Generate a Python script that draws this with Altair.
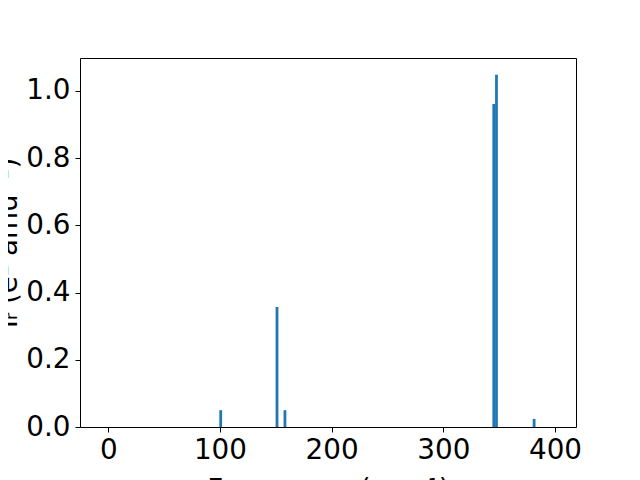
import altair as alt
import pandas as pd

freq = [100.7, 151.1, 158.2, 345.2, 347.6, 381.3]
intensity = [0.05, 0.357, 0.05, 0.961, 1.048, 0.024]
x_ticks = [0, 100, 200, 300, 400]
y_ticks = [0.0, 0.2, 0.4, 0.6, 0.8, 1.0]

df = pd.DataFrame({"freq": freq, "inten": intensity})

FONT = "DejaVu Sans"
FS = 27.8
XDOM = [-25.3, 418.8]
YDOM = [0, 1.098]

bars = (
    alt.Chart(df)
    .transform_calculate(x0="datum.freq - 1.25", x1="datum.freq + 1.25")
    .mark_rect(color="#1f77b4")
    .encode(
        x=alt.X(
            "x0:Q",
            scale=alt.Scale(domain=XDOM, nice=False, zero=False),
            axis=alt.Axis(
                values=x_ticks,
                format="d",
                grid=False,
                title="Frequency (cm⁻¹)",
                titleFont=FONT,
                titleFontSize=FS,
                titleFontWeight="normal",
                titleColor="black",
                titleBaseline="alphabetic",
                titleY=71,
                labelFont=FONT,
                labelFontSize=FS,
                labelColor="black",
                labelPadding=4,
                tickSize=5,
                tickColor="black",
                tickWidth=1,
                domainColor="black",
                domainWidth=1,
                labelFlush=False,
            ),
        ),
        x2="x1:Q",
        y=alt.Y(
            "inten:Q",
            scale=alt.Scale(domain=YDOM, nice=False),
            axis=alt.Axis(
                values=y_ticks,
                format=".1f",
                grid=False,
                title="Iᵣ (e² amu⁻¹)",
                titleFont=FONT,
                titleFontSize=FS,
                titleFontWeight="normal",
                titleColor="black",
                titleAngle=270,
                titleBaseline="alphabetic",
                titleX=-64,
                labelFont=FONT,
                labelFontSize=FS,
                labelColor="black",
                labelPadding=5,
                tickSize=5,
                tickColor="black",
                tickWidth=1,
                domainColor="black",
                domainWidth=1,
                labelFlush=False,
            ),
        ),
        y2=alt.datum(0),
    )
)

frame = (
    alt.Chart(df)
    .mark_point(opacity=0)
    .encode(
        x=alt.X(
            "freq:Q",
            scale=alt.Scale(domain=XDOM, nice=False, zero=False),
            axis=alt.Axis(orient="top", labels=False, ticks=False, title=None,
                          grid=False, domainColor="black", domainWidth=1),
        ),
        y=alt.Y(
            "inten:Q",
            scale=alt.Scale(domain=YDOM, nice=False),
            axis=alt.Axis(orient="right", labels=False, ticks=False, title=None,
                          grid=False, domainColor="black", domainWidth=1),
        ),
    )
)

chart = (
    alt.layer(bars, frame)
    .resolve_axis(x="independent", y="independent")
    .properties(
        width=496,
        height=369,
        autosize=alt.AutoSizeParams(type="none"),
        padding={"left": 72, "top": 50, "right": 56, "bottom": 53},
    )
    .configure_view(stroke=None)
    .configure(background="white")
)

chart.save("out.html", embed_options={"renderer": "svg", "actions": False})
